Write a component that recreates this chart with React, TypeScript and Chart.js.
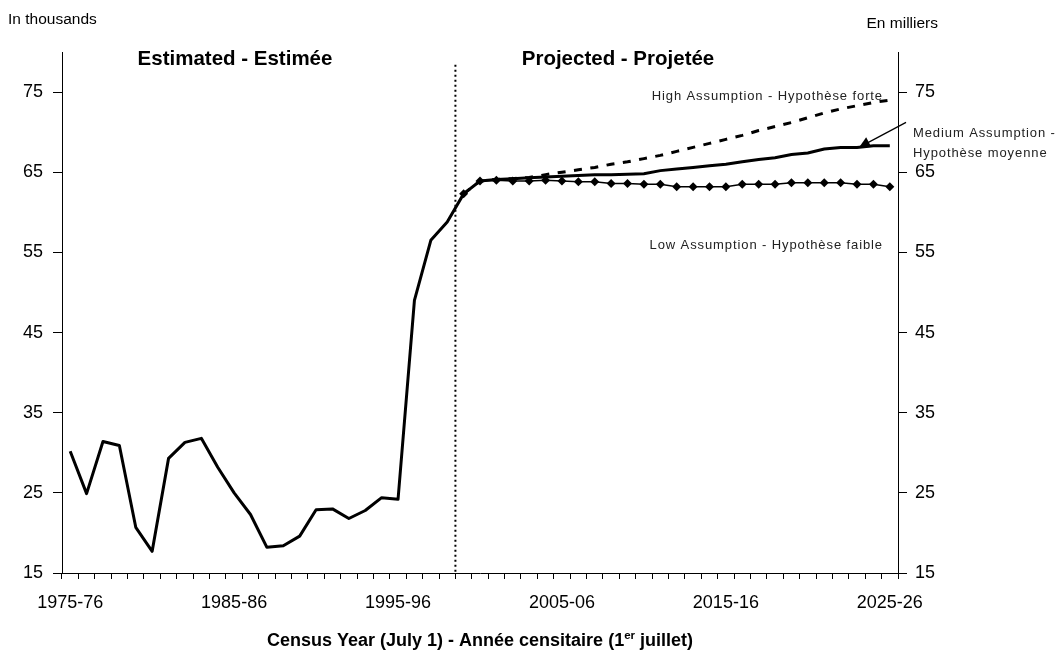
import React, { useEffect, useRef } from 'react';
import { Chart, registerables } from 'chart.js';

Chart.register(...registerables);

const categories = [
  '1975-76', '1976-77', '1977-78', '1978-79', '1979-80', '1980-81', '1981-82', '1982-83', '1983-84', '1984-85',
  '1985-86', '1986-87', '1987-88', '1988-89', '1989-90', '1990-91', '1991-92', '1992-93', '1993-94', '1994-95',
  '1995-96', '1996-97', '1997-98', '1998-99', '1999-00', '2000-01', '2001-02', '2002-03', '2003-04', '2004-05',
  '2005-06', '2006-07', '2007-08', '2008-09', '2009-10', '2010-11', '2011-12', '2012-13', '2013-14', '2014-15',
  '2015-16', '2016-17', '2017-18', '2018-19', '2019-20', '2020-21', '2021-22', '2022-23', '2023-24', '2024-25',
  '2025-26',
];

const labelEvery = 10;
const yTickValues = [15, 25, 35, 45, 55, 65, 75];

// Estimated series, 1975-76 to 1999-00
const estimated = [
  30.2, 24.9, 31.4, 30.9, 20.7, 17.7, 29.3, 31.3, 31.8, 28.2,
  25.0, 22.3, 18.2, 18.4, 19.6, 22.9, 23.0, 21.8, 22.8, 24.4,
  24.2, 49.0, 56.5, 58.8, 62.3,
];

// Projections, 1999-00 to 2025-26
const projectionStart = '1999-00';
const high = [
  62.3, 63.9, 64.1, 64.2, 64.35, 64.7, 65.0, 65.3, 65.6, 66.0,
  66.3, 66.7, 67.1, 67.6, 68.1, 68.6, 69.1, 69.6, 70.2, 70.7,
  71.2, 71.8, 72.4, 72.9, 73.3, 73.7, 74.0,
];
const medium = [
  62.3, 63.9, 64.1, 64.2, 64.3, 64.4, 64.5, 64.6, 64.7, 64.7,
  64.75, 64.8, 65.2, 65.4, 65.6, 65.8, 66.0, 66.3, 66.6, 66.8,
  67.2, 67.4, 67.9, 68.1, 68.1, 68.3, 68.3,
];
const low = [
  62.3, 63.9, 64.0, 63.9, 63.9, 64.0, 63.9, 63.8, 63.8, 63.6,
  63.6, 63.5, 63.5, 63.2, 63.2, 63.2, 63.2, 63.5, 63.5, 63.5,
  63.7, 63.7, 63.7, 63.7, 63.5, 63.5, 63.2,
];

const arrowTarget = '2023-24';

const FONT = "'Liberation Sans', Arial, Helvetica, sans-serif";

function App() {
  const ref = useRef<HTMLCanvasElement | null>(null);

  useEffect(() => {
    const canvas = ref.current;
    if (!canvas) return;
    const start = categories.indexOf(projectionStart);
    const padProj = (arr: number[]) =>
      categories.map((_, i) => (i < start ? null : arr[i - start] ?? null));
    const estData = categories.map((_, i) => (i < estimated.length ? estimated[i] : null));

    const overlay = {
      id: 'overlay',
      beforeDatasetsDraw(chart: any) {
        const ctx = chart.ctx;
        const xs = chart.scales.x;
        const ys = chart.scales.y;
        const x = (xs.getPixelForValue(start - 1) + xs.getPixelForValue(start)) / 2;
        ctx.save();
        ctx.strokeStyle = '#000';
        ctx.lineWidth = 2;
        ctx.setLineDash([2, 3]);
        ctx.beginPath();
        ctx.moveTo(x, ys.getPixelForValue(78.4));
        ctx.lineTo(x, chart.chartArea.bottom);
        ctx.stroke();
        ctx.restore();
      },
      afterDraw(chart: any) {
        const ctx = chart.ctx;
        const xs = chart.scales.x;
        const ys = chart.scales.y;
        ctx.save();
        ctx.fillStyle = '#000';
        ctx.textBaseline = 'alphabetic';

        // corner units
        ctx.font = `15.5px ${FONT}`;
        ctx.textAlign = 'left';
        ctx.fillText('In thousands', 8, 24);
        ctx.textAlign = 'right';
        ctx.fillText('En milliers', 938, 28);

        // section headers
        ctx.font = `bold 20.5px ${FONT}`;
        ctx.textAlign = 'center';
        ctx.fillText('Estimated - Estimée', 235, 65);
        ctx.fillText('Projected - Projetée', 618, 65);

        // series annotations
        ctx.fillStyle = '#222';
        ctx.font = `13px ${FONT}`;
        (ctx as any).letterSpacing = '0.9px';
        ctx.textAlign = 'right';
        ctx.fillText('High Assumption - Hypothèse forte', 883, 100);
        ctx.fillText('Low Assumption - Hypothèse faible', 883, 249);
        ctx.textAlign = 'left';
        ctx.fillText('Medium Assumption -', 913, 137);
        ctx.fillText('Hypothèse moyenne', 913, 157);
        (ctx as any).letterSpacing = '0px';

        // arrow to medium line
        const ti = categories.indexOf(arrowTarget);
        const tx = xs.getPixelForValue(ti) + 2;
        const ty = ys.getPixelForValue(medium[ti - start]);
        const sx = tx + 47;
        const sy = ty - 25;
        ctx.strokeStyle = '#000';
        ctx.lineWidth = 1.2;
        ctx.beginPath();
        ctx.moveTo(sx, sy);
        ctx.lineTo(tx, ty);
        ctx.stroke();
        const ang = Math.atan2(ty - sy, tx - sx);
        const len = 11;
        const wid = 5.5;
        ctx.beginPath();
        ctx.moveTo(tx, ty);
        ctx.lineTo(tx - len * Math.cos(ang) + wid * Math.sin(ang), ty - len * Math.sin(ang) - wid * Math.cos(ang));
        ctx.lineTo(tx - len * Math.cos(ang) - wid * Math.sin(ang), ty - len * Math.sin(ang) + wid * Math.cos(ang));
        ctx.closePath();
        ctx.fillStyle = '#000';
        ctx.fill();

        // x axis title with superscript
        const cx = (chart.chartArea.left + chart.chartArea.right) / 2;
        const p1 = 'Census Year (July 1) - Année censitaire (1';
        const p2 = 'er';
        const p3 = ' juillet)';
        const big = `bold 18px ${FONT}`;
        const small = `bold 11.5px ${FONT}`;
        ctx.font = big;
        const w1 = ctx.measureText(p1).width;
        const w3 = ctx.measureText(p3).width;
        ctx.font = small;
        const w2 = ctx.measureText(p2).width;
        let x0 = cx - (w1 + w2 + w3) / 2;
        const by = 646;
        ctx.textAlign = 'left';
        ctx.font = big;
        ctx.fillText(p1, x0, by);
        x0 += w1;
        ctx.font = small;
        ctx.fillText(p2, x0, by - 7.5);
        x0 += w2;
        ctx.font = big;
        ctx.fillText(p3, x0, by);
        ctx.restore();
      },
    };

    const tickFont = { family: FONT, size: 18 };
    const yAxis = (position: 'left' | 'right', width: number, pad: number) => ({
      type: 'linear' as const,
      position,
      min: 15,
      max: 80,
      afterBuildTicks: (s: any) => {
        s.ticks = yTickValues.map((v) => ({ value: v }));
      },
      afterFit: (s: any) => {
        s.width = width;
      },
      grid: { drawOnChartArea: false, drawTicks: true, tickLength: 9, color: '#000', lineWidth: 1 },
      border: { color: '#000', width: 1 },
      ticks: { padding: pad, color: '#000', font: tickFont },
    });

    const chart = new Chart(canvas, {
      type: 'line',
      data: {
        labels: categories,
        datasets: [
          {
            label: 'Estimated',
            data: estData,
            borderColor: '#000',
            borderWidth: 3,
            pointRadius: 0,
            tension: 0,
            borderJoinStyle: 'round',
          },
          {
            label: 'High',
            data: padProj(high),
            borderColor: '#000',
            borderWidth: 3,
            borderDash: [8, 8.5],
            pointRadius: 0,
            tension: 0,
          },
          {
            label: 'Medium',
            data: padProj(medium),
            borderColor: '#000',
            borderWidth: 3,
            pointRadius: 0,
            tension: 0,
          },
          {
            label: 'Low',
            data: padProj(low),
            borderColor: '#000',
            borderWidth: 1.5,
            pointStyle: 'rectRot',
            pointRadius: 4.5,
            pointBackgroundColor: '#000',
            pointBorderColor: '#000',
            pointBorderWidth: 0,
            tension: 0,
          },
        ],
      },
      options: {
        responsive: false,
        animation: false,
        layout: { padding: { top: 52, left: 0, right: 0, bottom: 0 } },
        plugins: { legend: { display: false }, tooltip: { enabled: false }, title: { display: false } },
        scales: {
          x: {
            type: 'category',
            offset: true,
            afterFit: (s: any) => {
              s.height = 79;
            },
            grid: { offset: true, drawOnChartArea: false, drawTicks: true, tickLength: 6, color: '#000', lineWidth: 1 },
            border: { color: '#000', width: 1 },
            ticks: {
              autoSkip: false,
              maxRotation: 0,
              minRotation: 0,
              padding: 13,
              color: '#000',
              font: tickFont,
              callback: (_v: any, i: number) => (i % labelEvery === 0 ? categories[i] : ''),
            },
          },
          y: yAxis('left', 62, 10),
          y2: yAxis('right', 162, 8),
        },
      },
      plugins: [overlay],
    } as any);

    return () => chart.destroy();
  }, []);

  return (
    <div style={{ position: 'fixed', left: 0, top: 0, width: 1060, height: 652, background: '#fff' }}>
      <canvas ref={ref} width={1060} height={652} style={{ display: 'block' }} />
    </div>
  );
}

export default App;
